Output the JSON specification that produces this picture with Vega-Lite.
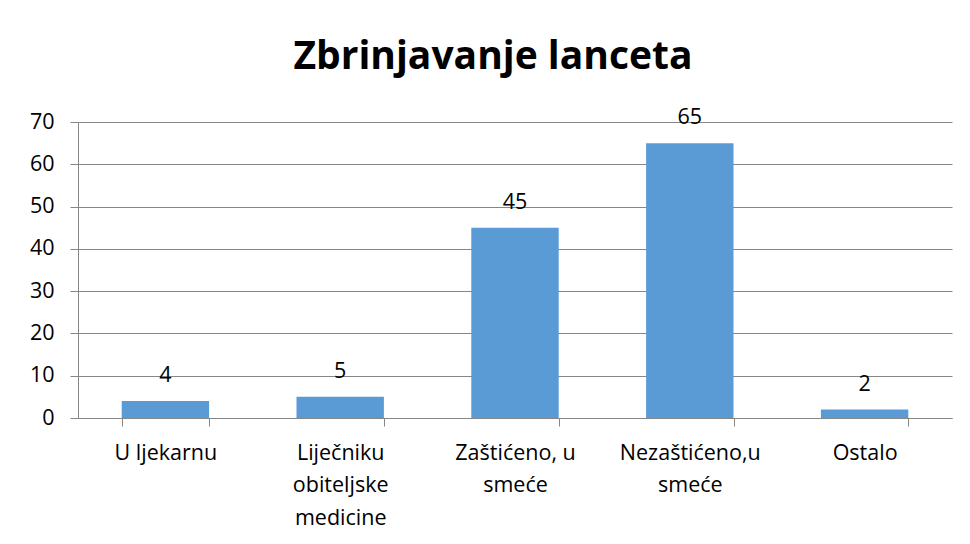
{
  "$schema": "https://vega.github.io/schema/vega-lite/v6.json",
  "autosize": "none",
  "width": 874,
  "height": 296,
  "padding": {"left": 78, "top": 122, "right": 18, "bottom": 126},
  "background": "white",
  "title": {
    "text": "Zbrinjavanje lanceta",
    "font": "Open Sans",
    "fontSize": 39,
    "fontWeight": "bold",
    "color": "#000000",
    "anchor": "middle",
    "dx": -22,
    "offset": 30
  },
  "data": {
    "values": [
      {"kategorija": "U ljekarnu", "broj": 4},
      {"kategorija": "Liječniku obiteljske medicine", "broj": 5},
      {"kategorija": "Zaštićeno, u smeće", "broj": 45},
      {"kategorija": "Nezaštićeno,u smeće", "broj": 65},
      {"kategorija": "Ostalo", "broj": 2}
    ]
  },
  "encoding": {
    "x": {
      "field": "kategorija",
      "type": "nominal",
      "sort": null,
      "title": null,
      "scale": {"paddingInner": 0.5, "paddingOuter": 0.25},
      "axis": {
        "labelAngle": 0,
        "labelFont": "Open Sans",
        "labelFontSize": 21.5,
        "labelColor": "#000000",
        "labelLineHeight": 32.5,
        "labelPadding": 16,
        "labelBaseline": "top",
        "tickSize": 8,
        "tickColor": "#868686",
        "domainColor": "#868686",
        "tickBand": "extent",
        "labelExpr": "datum.value == 'Liječniku obiteljske medicine' ? ['Liječniku', 'obiteljske', 'medicine'] : datum.value == 'Zaštićeno, u smeće' ? ['Zaštićeno, u', 'smeće'] : datum.value == 'Nezaštićeno,u smeće' ? ['Nezaštićeno,u', 'smeće'] : datum.value"
      }
    },
    "y": {
      "field": "broj",
      "type": "quantitative",
      "title": null,
      "scale": {"domain": [0, 70], "nice": false},
      "axis": {
        "values": [0, 10, 20, 30, 40, 50, 60, 70],
        "labelFont": "Open Sans",
        "labelFontSize": 21.5,
        "labelColor": "#000000",
        "labelPadding": 16,
        "tickSize": 8,
        "tickColor": "#868686",
        "domainColor": "#868686",
        "gridColor": "#868686",
        "grid": true
      }
    }
  },
  "layer": [
    {"mark": {"type": "bar", "color": "#5b9bd5"}},
    {
      "mark": {
        "type": "text",
        "font": "Open Sans",
        "fontSize": 21.5,
        "color": "#000000",
        "baseline": "alphabetic",
        "dy": -19
      },
      "encoding": {"text": {"field": "broj", "type": "quantitative"}}
    }
  ],
  "config": {
    "view": {"stroke": null},
    "axis": {"domainWidth": 1, "gridWidth": 1, "tickWidth": 1}
  }
}
